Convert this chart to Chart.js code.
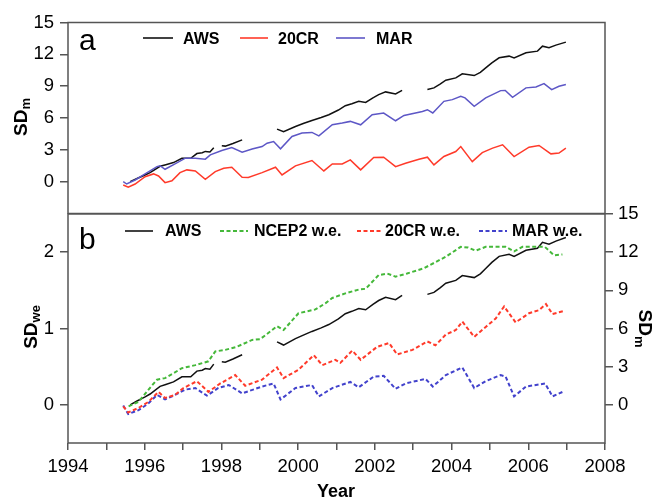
<!DOCTYPE html>
<html><head><meta charset="utf-8">
<script src="https://cdn.jsdelivr.net/npm/chart.js@4.4.1/dist/chart.umd.min.js"></script>
<style>
html,body{margin:0;padding:0;background:#fff;}
#wrap{position:relative;width:656px;height:502px;overflow:hidden;}
#c1{position:absolute;left:0;top:0;}
#c2{position:absolute;left:0;top:190px;}
</style></head><body>
<div id="wrap"><canvas id="c1" width="656" height="214"></canvas><canvas id="c2" width="656" height="312"></canvas></div>
<script>
// ---------- data ----------
const awsYears = [1995.62,1995.8,1996.01,1996.14,1996.4,1996.55,1996.75,1996.97,1997.2,1997.36,1997.5,1997.58,1997.7,1997.8,
  1997.9,
  1998.01,1998.1,1998.3,1998.54,
  1999.0,
  1999.45,1999.62,1999.93,2000.15,2000.36,2000.6,2000.8,2001.05,2001.23,2001.4,2001.58,2001.76,2001.95,2002.1,2002.28,2002.54,2002.71,
  2003.0,
  2003.37,2003.54,2003.7,2003.85,2004.11,2004.28,2004.59,2004.75,2004.89,2005.05,2005.24,2005.5,2005.63,2005.94,2006.24,2006.37,2006.54,2006.72,2006.98];
const awsSDm = [0.0,0.3,0.63,0.85,1.45,1.6,1.8,2.2,2.2,2.65,2.72,2.85,2.8,3.2,
  null,
  3.38,3.35,3.6,3.94,
  null,
  4.95,4.7,5.2,5.5,5.77,6.05,6.31,6.75,7.16,7.35,7.57,7.47,7.9,8.2,8.46,8.27,8.61,
  null,
  8.68,8.84,9.2,9.56,9.78,10.16,10.0,10.3,10.72,11.2,11.67,11.83,11.67,12.15,12.3,12.77,12.62,12.87,13.15];

const marYears = [1995.44,1995.53,1995.75,1996.01,1996.32,1996.4,1996.53,1996.79,1997.06,1997.32,1997.58,1997.71,1998.01,1998.27,1998.54,1998.8,1999.06,1999.19,1999.36,1999.54,1999.84,2000.1,2000.36,2000.54,2000.89,2001.15,2001.36,2001.63,2001.93,2002.23,2002.54,2002.76,2003.24,2003.37,2003.51,2003.8,2004.02,2004.24,2004.35,2004.59,2004.89,2005.28,2005.4,2005.59,2005.94,2006.2,2006.41,2006.61,2006.8,2006.98];
const marSDm = [0.0,-0.22,0.16,0.73,1.42,1.5,1.17,1.67,2.21,2.21,2.12,2.53,2.93,3.22,2.78,3.07,3.31,3.63,3.78,3.09,4.26,4.58,4.64,4.32,5.36,5.52,5.68,5.36,6.31,6.47,5.74,6.24,6.62,6.78,6.47,7.57,7.73,8.04,7.9,7.1,7.89,8.58,8.6,7.95,8.84,8.93,9.24,8.68,8.99,9.15];

const cr20Years = [1995.44,1995.57,1995.75,1996.01,1996.23,1996.36,1996.53,1996.71,1996.92,1997.1,1997.32,1997.58,1997.84,1998.06,1998.27,1998.54,1998.7,1999.06,1999.41,1999.58,1999.93,2000.36,2000.67,2000.89,2001.15,2001.36,2001.63,2001.97,2002.23,2002.54,2002.8,2003.15,2003.37,2003.54,2003.8,2004.11,2004.24,2004.54,2004.8,2005.07,2005.33,2005.63,2006.02,2006.28,2006.59,2006.8,2006.98];
const cr20SDm = [-0.31,-0.53,-0.22,0.47,0.73,0.54,-0.09,0.09,0.85,1.11,1.01,0.23,0.95,1.27,1.36,0.42,0.4,0.85,1.36,0.63,1.49,1.99,1.01,1.67,1.67,2.05,1.11,2.27,2.31,1.42,1.74,2.12,2.31,1.58,2.37,2.84,3.31,1.89,2.74,3.16,3.47,2.37,3.25,3.41,2.62,2.7,3.16];

const ncepYears = [1995.58,1995.84,1996.1,1996.32,1996.53,1996.97,1997.32,1997.66,1997.84,1998.1,1998.4,1998.8,1999.01,1999.45,1999.62,2000.01,2000.45,2000.71,2000.89,2001.23,2001.58,2001.76,2002.1,2002.32,2002.54,2002.84,2003.28,2003.85,2004.24,2004.43,2004.63,2004.89,2005.41,2005.63,2005.85,2006.28,2006.43,2006.67,2006.89];
const ncepSDwe = [-0.02,0.04,0.2,0.33,0.35,0.48,0.52,0.57,0.70,0.72,0.76,0.85,0.86,1.03,0.98,1.2,1.25,1.33,1.40,1.46,1.51,1.52,1.70,1.72,1.68,1.72,1.79,1.94,2.07,2.06,2.02,2.07,2.07,2.01,2.07,2.07,2.07,1.96,1.97];

const cr20weYears = [1995.44,1995.57,1995.84,1996.1,1996.36,1996.53,1996.79,1997.01,1997.36,1997.66,1997.97,1998.36,1998.62,1999.06,1999.45,1999.62,2000.01,2000.41,2000.63,2000.97,2001.1,2001.41,2001.63,2002.06,2002.37,2002.58,2002.98,2003.37,2003.58,2003.85,2004.11,2004.28,2004.59,2004.89,2005.15,2005.37,2005.67,2006.02,2006.28,2006.46,2006.63,2006.94];
const cr20weSDwe = [-0.02,-0.10,-0.04,0.04,0.17,0.09,0.13,0.22,0.31,0.17,0.28,0.39,0.25,0.33,0.49,0.35,0.46,0.65,0.52,0.59,0.55,0.71,0.59,0.76,0.81,0.66,0.72,0.83,0.78,0.92,0.98,1.09,0.89,1.02,1.13,1.29,1.08,1.2,1.24,1.32,1.19,1.23];

const marweYears = [1995.44,1995.57,1995.84,1996.1,1996.32,1996.53,1996.79,1997.06,1997.32,1997.62,1997.92,1998.19,1998.54,1999.06,1999.36,1999.54,1999.93,2000.36,2000.54,2000.89,2001.36,2001.58,2001.97,2002.23,2002.54,2002.8,2003.32,2003.51,2003.85,2004.28,2004.59,2004.89,2005.28,2005.41,2005.63,2005.94,2006.2,2006.44,2006.63,2006.94];
const marweSDwe = [-0.01,-0.12,-0.07,0.02,0.13,0.07,0.13,0.2,0.22,0.12,0.22,0.26,0.15,0.24,0.28,0.07,0.22,0.26,0.11,0.22,0.3,0.23,0.37,0.38,0.21,0.28,0.34,0.24,0.39,0.49,0.22,0.31,0.39,0.37,0.11,0.24,0.26,0.28,0.11,0.18];

const xTickYears = [1994,1995,1996,1997,1998,1999,2000,2001,2002,2003,2004,2005,2006,2007,2008];
const sdmTicks = [0,3,6,9,12,15];
const sdweTicks = [0,1,2];

// ---------- helpers ----------
const F = "'Liberation Sans', Arial, Helvetica, sans-serif";
const pts = (xs, ys) => xs.map((x, i) => ({x: x, y: ys[i]}));
const AXC = '#555';
const C_AWS = '#111111', C_20CR = '#ff3a2a', C_MAR = '#5d57c6', C_NCEP = '#45b83a', C_MARWE = '#4242cc';

const framePlugin = {
  id: 'frame',
  afterDraw(chart) {
    const {ctx, chartArea: a} = chart;
    ctx.save();
    ctx.strokeStyle = AXC; ctx.lineWidth = 1.5;
    ctx.strokeRect(a.left, a.top, a.right - a.left, a.bottom - a.top);
    ctx.restore();
  }
};

function subTitle(ctx, x, y, rot, main, sub, subShift) {
  ctx.save();
  ctx.translate(x, y); ctx.rotate(rot);
  ctx.fillStyle = '#000'; ctx.textBaseline = 'alphabetic'; ctx.textAlign = 'left';
  ctx.font = 'bold 19px ' + F;
  const w1 = ctx.measureText(main).width;
  ctx.font = 'bold 13px ' + F;
  const w2 = ctx.measureText(sub).width;
  const x0 = -(w1 + w2) / 2;
  ctx.font = 'bold 19px ' + F;
  ctx.fillText(main, x0, 0);
  ctx.font = 'bold 13px ' + F;
  ctx.fillText(sub, x0 + w1, subShift);
  ctx.restore();
}

function legendItem(ctx, x1, x2, ly, color, dash, width, tx, ty, label) {
  ctx.save();
  ctx.strokeStyle = color; ctx.lineWidth = width; ctx.setLineDash(dash);
  ctx.beginPath(); ctx.moveTo(x1, ly); ctx.lineTo(x2, ly); ctx.stroke();
  ctx.setLineDash([]);
  ctx.fillStyle = '#000'; ctx.font = 'bold 16px ' + F; ctx.textBaseline = 'alphabetic'; ctx.textAlign = 'left';
  ctx.fillText(label, tx, ty);
  ctx.restore();
}

const DASH = [4, 2.5];

const topText = {
  id: 'topText',
  afterDraw(chart) {
    const ctx = chart.ctx;
    ctx.save();
    ctx.fillStyle = '#000'; ctx.font = '30px ' + F; ctx.textBaseline = 'alphabetic';
    ctx.fillText('a', 79, 49.5);
    ctx.restore();
    legendItem(ctx, 143, 173, 38, C_AWS, [], 1.6, 183, 44, 'AWS');
    legendItem(ctx, 240, 268, 38, C_20CR, [], 1.6, 278, 44, '20CR');
    legendItem(ctx, 336, 365, 38, C_MAR, [], 1.6, 376, 44, 'MAR');
    subTitle(ctx, 26.5, 117, -Math.PI / 2, 'SD', 'm', 3.5);
  }
};

const O2 = 190; // page offset of the lower canvas
const botText = {
  id: 'botText',
  afterDraw(chart) {
    const ctx = chart.ctx;
    const o = O2;
    ctx.save();
    ctx.fillStyle = '#000'; ctx.font = '30px ' + F; ctx.textBaseline = 'alphabetic';
    ctx.fillText('b', 79, 248.5 - o);
    ctx.font = 'bold 18px ' + F; ctx.textAlign = 'center';
    ctx.fillText('Year', 336, 497 - o);
    ctx.restore();
    legendItem(ctx, 125, 153, 231 - o, C_AWS, [], 1.6, 165, 236 - o, 'AWS');
    legendItem(ctx, 220, 248, 231 - o, C_NCEP, DASH, 2, 254, 236 - o, 'NCEP2 w.e.');
    legendItem(ctx, 357, 383, 231 - o, C_20CR, DASH, 2, 385, 236 - o, '20CR w.e.');
    legendItem(ctx, 479, 507, 231 - o, C_MARWE, DASH, 2, 512, 236 - o, 'MAR w.e.');
    subTitle(ctx, 36.5, 327 - o, -Math.PI / 2, 'SD', 'we', 3.5);
    subTitle(ctx, 638.5, 328.5 - o, Math.PI / 2, 'SD', 'm', 3.5);
  }
};

const lineDs = (label, data, color, axis, dash, width) => ({
  label: label, data: data, borderColor: color, backgroundColor: color,
  borderWidth: width, borderDash: dash, pointRadius: 0, tension: 0, spanGaps: false,
  yAxisID: axis, fill: false
});

const tickFont = {size: 18.5, family: F};
const gridOut = {drawOnChartArea: false, tickLength: 8, color: AXC, lineWidth: 1.5};
const fixW = w => s => { s.width = w; s.paddingTop = 0; s.paddingBottom = 0; s.paddingLeft = 0; s.paddingRight = 0; };
const fixH = h => s => { s.height = h; s.paddingTop = 0; s.paddingBottom = 0; s.paddingLeft = 0; s.paddingRight = 0; };

// ---------- top panel ----------
new Chart(document.getElementById('c1'), {
  type: 'line',
  data: {datasets: [
    lineDs('20CR', pts(cr20Years, cr20SDm), C_20CR, 'y', [], 1.5),
    lineDs('MAR', pts(marYears, marSDm), C_MAR, 'y', [], 1.5),
    lineDs('AWS', pts(awsYears, awsSDm), C_AWS, 'y', [], 1.5)
  ]},
  options: {
    responsive: false, animation: false, events: [],
    layout: {autoPadding: false, padding: {top: 22.5, right: 51, bottom: 0.5, left: 0}},
    plugins: {legend: {display: false}, tooltip: {enabled: false}},
    scales: {
      x: {type: 'linear', min: 1994, max: 2008, display: false, afterFit: fixH(0)},
      y: {type: 'linear', min: -3, max: 15, position: 'left',
        afterBuildTicks: s => { s.ticks = sdmTicks.map(v => ({value: v})); },
        afterFit: fixW(68),
        ticks: {font: tickFont, color: '#000', padding: 6},
        grid: gridOut, border: {display: false}}
    }
  },
  plugins: [framePlugin, topText]
});

// ---------- bottom panel ----------
new Chart(document.getElementById('c2'), {
  type: 'line',
  data: {datasets: [
    lineDs('NCEP2 w.e.', pts(ncepYears, ncepSDwe), C_NCEP, 'yL', DASH, 2),
    lineDs('20CR w.e.', pts(cr20weYears, cr20weSDwe), C_20CR, 'yL', DASH, 2),
    lineDs('MAR w.e.', pts(marweYears, marweSDwe), C_MARWE, 'yL', DASH, 2),
    lineDs('AWS', pts(awsYears, awsSDm), C_AWS, 'yR', [], 1.5)
  ]},
  options: {
    responsive: false, animation: false, events: [],
    layout: {autoPadding: false, padding: {top: 214 - O2, right: 0, bottom: 0, left: 0}},
    plugins: {legend: {display: false}, tooltip: {enabled: false}},
    scales: {
      x: {type: 'linear', min: 1994, max: 2008, position: 'bottom',
        afterBuildTicks: s => { s.ticks = xTickYears.map(v => ({value: v})); },
        afterFit: fixH(59),
        ticks: {font: tickFont, color: '#000', padding: 6, autoSkip: false, maxRotation: 0,
          callback: v => (v % 2 === 0 ? String(v) : '')},
        grid: {drawOnChartArea: false, tickLength: 7, color: AXC, lineWidth: 1.5},
        border: {display: false}},
      yL: {type: 'linear', min: -0.5, max: 2.5, position: 'left',
        afterBuildTicks: s => { s.ticks = sdweTicks.map(v => ({value: v})); },
        afterFit: fixW(68),
        ticks: {font: tickFont, color: '#000', padding: 6},
        grid: gridOut, border: {display: false}},
      yR: {type: 'linear', min: -3, max: 15, position: 'right',
        afterBuildTicks: s => { s.ticks = sdmTicks.map(v => ({value: v})); },
        afterFit: fixW(51),
        ticks: {font: tickFont, color: '#000', padding: 5},
        grid: gridOut, border: {display: false}}
    }
  },
  plugins: [framePlugin, botText]
});
</script>
</body></html>
